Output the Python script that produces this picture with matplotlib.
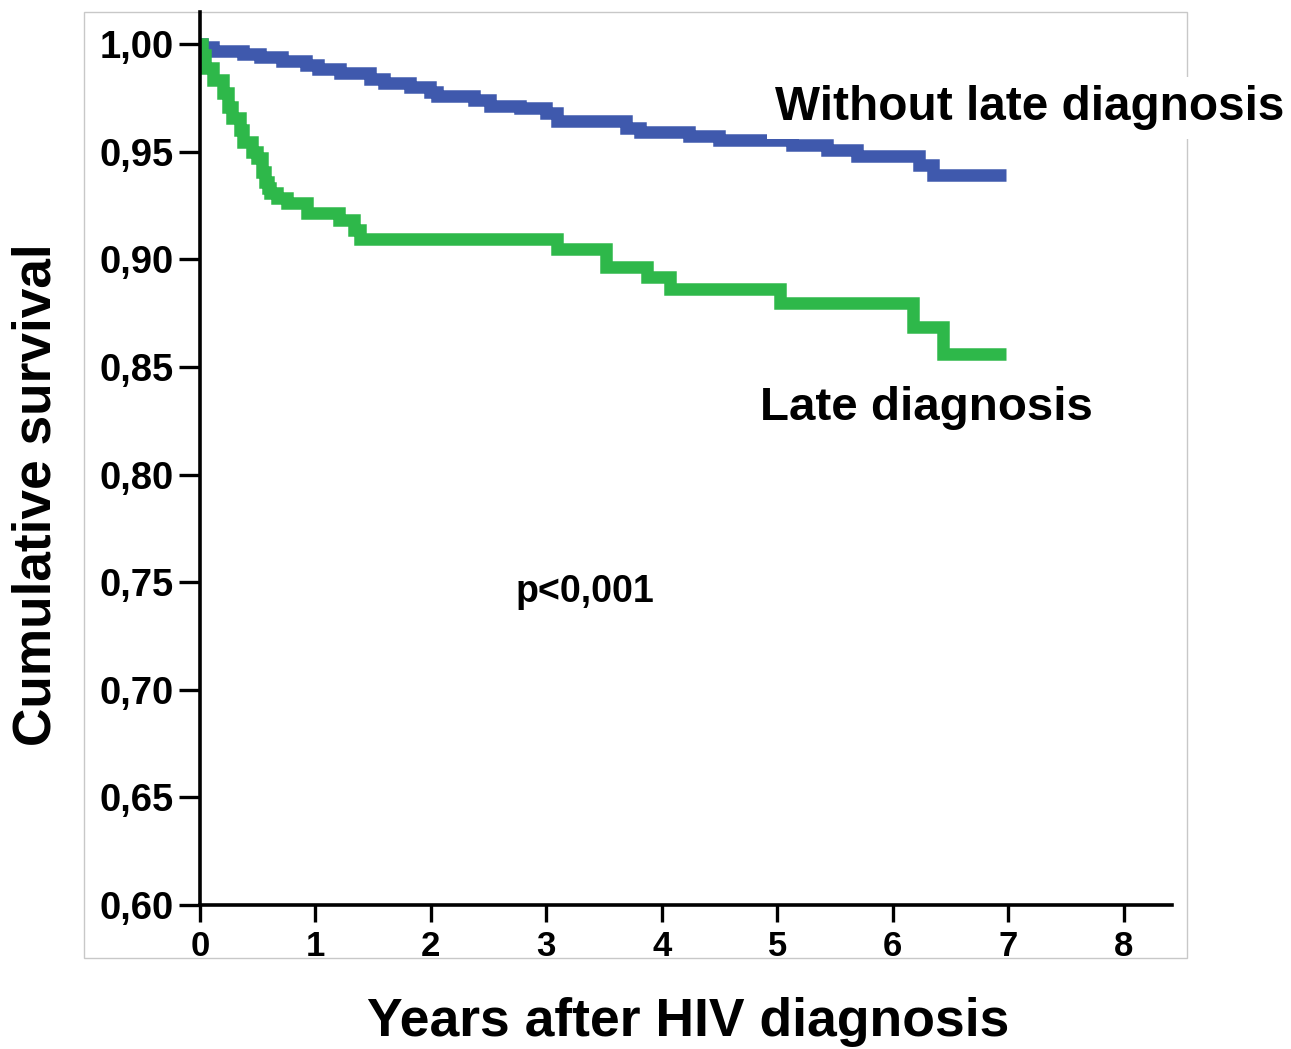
import matplotlib
matplotlib.use("Agg")
import matplotlib.pyplot as plt
from matplotlib.patches import Rectangle

# Kaplan-Meier steps (time in years, survival)
blue_t = [0, 0.015, 0.115, 0.375, 0.52, 0.71, 0.92, 1.02, 1.21, 1.47, 1.59, 1.82, 1.99, 2.05,
          2.37, 2.51, 2.77, 3.0, 3.09, 3.69, 3.81, 4.24, 4.50, 5.13, 5.43, 5.69, 6.23, 6.35, 6.98]
blue_s = [1.0, 0.9988, 0.9969, 0.9954, 0.9938, 0.9923, 0.9902, 0.9882, 0.9864, 0.9836, 0.982,
          0.9799, 0.9778, 0.9758, 0.974, 0.9712, 0.9701, 0.9678, 0.9644, 0.961, 0.9591, 0.9573,
          0.9554, 0.9531, 0.9508, 0.948, 0.9438, 0.9391, 0.9391]

green_t = [0, 0.02, 0.04, 0.115, 0.2, 0.245, 0.274, 0.346, 0.375, 0.447, 0.49, 0.534, 0.563,
           0.59, 0.606, 0.664, 0.75, 0.924, 1.2, 1.33, 1.39, 3.09, 3.52, 3.87, 4.07, 5.02,
           6.18, 6.44, 6.98]
green_s = [1.0, 0.9949, 0.9887, 0.9833, 0.9771, 0.9709, 0.9655, 0.960, 0.9546, 0.950, 0.9469,
           0.9407, 0.936, 0.933, 0.9306, 0.9283, 0.926, 0.9213, 0.9182, 0.9136, 0.9094, 0.905,
           0.8965, 0.8916, 0.886, 0.8798, 0.8687, 0.856, 0.856]

yticks = [0.60, 0.65, 0.70, 0.75, 0.80, 0.85, 0.90, 0.95, 1.00]
xticks = [0, 1, 2, 3, 4, 5, 6, 7, 8]

fig = plt.figure(figsize=(12.91, 10.49), dpi=100)
# light grey frame around the plot area
fig.patches.append(Rectangle((84/1291, 1-958/1049), 1103/1291, 946/1049,
                             transform=fig.transFigure, fill=False,
                             edgecolor="#c8c8c8", lw=1, zorder=-1))

ax = fig.add_axes([200/1291, 1-905/1049, 972/1291, 893/1049])
ax.set_facecolor("none")

ax.step(blue_t, blue_s, where="post", color="#3f59ad", lw=9,
        solid_joinstyle="miter", solid_capstyle="butt")
ax.step(green_t, green_s, where="post", color="#2eb84a", lw=9,
        solid_joinstyle="miter", solid_capstyle="butt")

ax.set_xlim(0, 8.42)
ax.set_ylim(0.60, 1.0149)

for s in ["top", "right"]:
    ax.spines[s].set_visible(False)
for s in ["left", "bottom"]:
    ax.spines[s].set_linewidth(2.6)

ax.set_yticks(yticks)
ax.set_yticklabels([("%.2f" % v).replace(".", ",") for v in yticks], fontsize=27.5,
                   fontweight="bold", family="Liberation Sans")
ax.set_xticks(xticks)
ax.set_xticklabels([str(v) for v in xticks], fontsize=25, fontweight="bold",
                   family="Liberation Sans")
ax.tick_params(axis="y", length=15, width=2.4, pad=4)
ax.tick_params(axis="x", length=12, width=2.4, pad=6)

fig.text(688/1291, 1-1022/1049, "Years after HIV diagnosis",
         ha="center", va="center", fontsize=38.5, fontweight="bold", family="Liberation Sans")
fig.text(37/1291, 1-495/1049, "Cumulative survival", rotation=90, ha="center", va="center",
         fontsize=38.3, fontweight="bold", family="Liberation Sans")

box = dict(facecolor="white", edgecolor="none", pad=6)
ax.text(4.98, 0.9703, "Without late diagnosis", ha="left", va="center", fontsize=34.4,
        fontweight="bold", family="Liberation Sans", bbox=box, zorder=5)
ax.text(4.85, 0.8310, "Late diagnosis", ha="left", va="center", fontsize=34.2,
        fontweight="bold", family="Liberation Sans", bbox=box, zorder=5)
ax.text(2.73, 0.7455, "p<0,001", ha="left", va="center", fontsize=27,
        fontweight="bold", family="Liberation Sans")

fig.savefig("out.png", dpi=100)
